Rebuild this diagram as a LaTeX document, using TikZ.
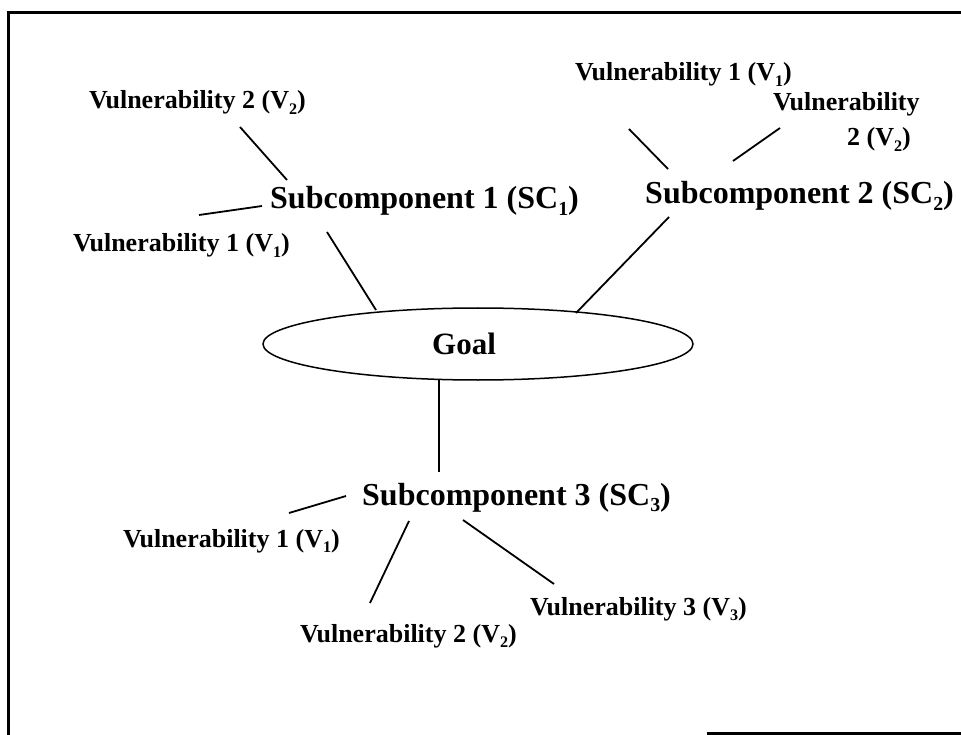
\documentclass[tikz,border=0pt]{standalone}
\usepackage{fontspec}
\usepackage{graphicx}
\setmainfont{Liberation Serif}
\usetikzlibrary{shapes.geometric}
\newcommand{\lowsub}[1]{\raisebox{-0.2em}{\scalebox{0.62}{#1}}}
\begin{document}
\begin{tikzpicture}[x=1pt,y=-1pt,
  vuln/.style={inner sep=0pt, anchor=base west, font=\fontsize{26}{35}\selectfont\bfseries},
  subc/.style={inner sep=0pt, anchor=base west, font=\fontsize{32}{38}\selectfont\bfseries},
  link/.style={line width=1.8pt},
  frameline/.style={line width=3pt}]
\useasboundingbox (0,0) rectangle (961,735);
% frame
\draw[frameline] (8,735) -- (8,13) -- (961,13);
\draw[frameline] (707,733) -- (961,733);
% nodes
\node[vuln] (a2) at (89,109) {Vulnerability 2 (V\lowsub{2})};
\node[subc] (sc1) at (270,209) {Subcomponent 1 (SC\lowsub{1})};
\node[vuln] (a1) at (73,252) {Vulnerability 1 (V\lowsub{1})};
\node[vuln] (b1) at (575,81) {Vulnerability 1 (V\lowsub{1})};
\node[vuln, align=left] (b2) at (773,146) {Vulnerability\\\hspace*{74pt}2 (V\lowsub{2})};
\node[subc] (sc2) at (645,204) {Subcomponent 2 (SC\lowsub{2})};
\node[ellipse, draw, line width=1.5pt, minimum width=430pt, minimum height=72pt, inner sep=0pt,
      font=\fontsize{31}{36}\selectfont\bfseries] (goal) at (478,344) {Goal\rule{28pt}{0pt}};
\node[subc] (sc3) at (362,505) {Subcomponent 3 (SC\lowsub{3})};
\node[vuln] (c1) at (123,547) {Vulnerability 1 (V\lowsub{1})};
\node[vuln] (c2) at (300,642) {Vulnerability 2 (V\lowsub{2})};
\node[vuln] (c3) at (530,615) {Vulnerability 3 (V\lowsub{3})};
% connector ends
\coordinate (a2e) at (240,127);  \coordinate (sc1a) at (287,180);
\coordinate (a1e) at (199,215);  \coordinate (sc1b) at (262,206);
\coordinate (sc1c) at (327,232); \coordinate (goala) at (376,310);
\coordinate (b1e) at (629,129);  \coordinate (sc2a) at (668,169);
\coordinate (b2e) at (780,128);  \coordinate (sc2b) at (733,161);
\coordinate (sc2c) at (669,217); \coordinate (goalb) at (576,313);
\coordinate (goalc) at (439,380); \coordinate (sc3a) at (439,472);
\coordinate (c1e) at (289,513);  \coordinate (sc3b) at (346,496);
\coordinate (sc3c) at (409,521); \coordinate (c2e) at (370,603);
\coordinate (sc3d) at (463,520); \coordinate (c3e) at (554,584);
% connectors
\draw[link] (a2e) -- (sc1a);
\draw[link] (a1e) -- (sc1b);
\draw[link] (sc1c) -- (goala);
\draw[link] (b1e) -- (sc2a);
\draw[link] (b2e) -- (sc2b);
\draw[link] (sc2c) -- (goalb);
\draw[link] (goalc) -- (sc3a);
\draw[link] (c1e) -- (sc3b);
\draw[link] (sc3c) -- (c2e);
\draw[link] (sc3d) -- (c3e);
\end{tikzpicture}
\end{document}
